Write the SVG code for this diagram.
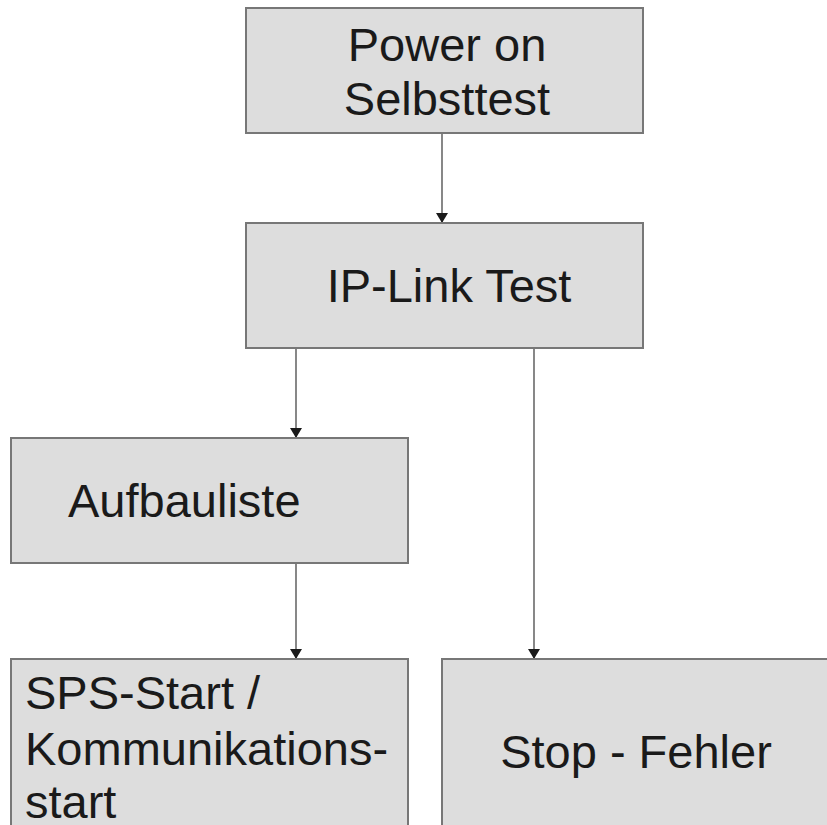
<svg xmlns="http://www.w3.org/2000/svg" width="827" height="825" viewBox="0 0 827 825">
<defs>
<style>
.box{fill:#dddddd;stroke:#777777;stroke-width:2}
.lbl{font-family:"Liberation Sans",Arial,sans-serif;font-size:47px;fill:#1a1a1a}
.mid{text-anchor:middle}
.con{stroke:#6a6a6a;stroke-width:1.6;fill:none;marker-end:url(#ah)}
</style>
<marker id="ah" viewBox="0 0 10 12" refX="10" refY="6" markerWidth="10" markerHeight="12" markerUnits="userSpaceOnUse" orient="auto">
<path d="M0,0 L10,6 L0,12 Z" fill="#1a1a1a"/>
</marker>
</defs>
<rect width="827" height="825" fill="#ffffff"/>
<g id="connectors">
<line class="con" x1="442" y1="133" x2="442" y2="223"/>
<line class="con" x1="296" y1="348" x2="296" y2="438"/>
<line class="con" x1="296" y1="563" x2="296" y2="659"/>
<line class="con" x1="534" y1="348" x2="534" y2="659"/>
</g>
<g id="n1">
<rect class="box" x="246" y="8" width="397" height="125"/>
<text class="lbl mid" x="447" y="61">Power on</text>
<text class="lbl mid" x="447" y="115">Selbsttest</text>
</g>
<g id="n2">
<rect class="box" x="246" y="223" width="397" height="125"/>
<text class="lbl mid" x="449" y="302">IP-Link Test</text>
</g>
<g id="n3">
<rect class="box" x="11" y="438" width="397" height="125"/>
<text class="lbl" x="68" y="517">Aufbauliste</text>
</g>
<g id="n4">
<rect class="box" x="11" y="659" width="397" height="180"/>
<text class="lbl" x="25" y="709">SPS-Start /</text>
<text class="lbl" x="25" y="765">Kommunikations-</text>
<text class="lbl" x="25" y="818">start</text>
</g>
<g id="n5">
<rect class="box" x="442" y="659" width="400" height="180"/>
<text class="lbl mid" x="636" y="768">Stop - Fehler</text>
</g>
</svg>
